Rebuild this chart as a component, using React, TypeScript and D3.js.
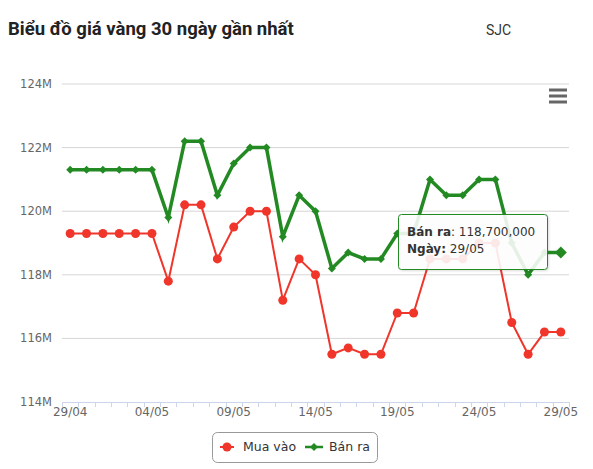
import * as React from "react";
import * as d3 from "d3";

const dates = [
  "29/04", "30/04", "01/05", "02/05", "03/05", "04/05", "05/05", "06/05",
  "07/05", "08/05", "09/05", "10/05", "11/05", "12/05", "13/05", "14/05",
  "15/05", "16/05", "17/05", "18/05", "19/05", "20/05", "21/05", "22/05",
  "23/05", "24/05", "25/05", "26/05", "27/05", "28/05", "29/05",
];

// giá mua vào (triệu đồng)
const buyPrices = [
  119.3, 119.3, 119.3, 119.3, 119.3, 119.3, 117.8, 120.2, 120.2, 118.5,
  119.5, 120.0, 120.0, 117.2, 118.5, 118.0, 115.5, 115.7, 115.5, 115.5,
  116.8, 116.8, 118.5, 118.5, 118.5, 119.0, 119.0, 116.5, 115.5, 116.2,
  116.2,
];

// giá bán ra (triệu đồng)
const sellPrices = [
  121.3, 121.3, 121.3, 121.3, 121.3, 121.3, 119.8, 122.2, 122.2, 120.5,
  121.5, 122.0, 122.0, 119.2, 120.5, 120.0, 118.2, 118.7, 118.5, 118.5,
  119.3, 119.3, 121.0, 120.5, 120.5, 121.0, 121.0, 119.0, 118.0, 118.7,
  118.7,
];

const yTicks = [114, 116, 118, 120, 122, 124];
const xLabelEvery = 5;

const W = 593;
const H = 469;
const left = 62;
const right = 569;
const top = 84;
const bottom = 402;

const RED = "#f0352a";
const GREEN = "#238a23";
const axisFont = '"DejaVu Sans", Verdana, sans-serif';

export default function App() {
  const x = d3.scaleBand<string>().domain(dates).range([left, right]);
  const cx = (i: number) => x(dates[i])! + x.bandwidth() / 2;
  const y = d3.scaleLinear().domain([114, 124]).range([bottom, top]);

  const line = d3
    .line<number>()
    .x((_, i) => cx(i))
    .y((d) => y(d));

  const diamond = (px: number, py: number, r: number) =>
    `M${px},${py - r}L${px + r},${py}L${px},${py + r}L${px - r},${py}Z`;

  const hoverIdx = dates.length - 1;

  return (
    <svg
      width={W}
      height={H}
      style={{ position: "absolute", left: 0, top: 0, background: "#fff" }}
    >
      <defs>
        <filter id="tipShadow" x="-10%" y="-10%" width="130%" height="140%">
          <feDropShadow dx="1" dy="1" stdDeviation="1.2" floodColor="#000" floodOpacity="0.15" />
        </filter>
      </defs>

      {/* title */}
      <text x={8} y={35} fontFamily="Roboto" fontWeight={700} fontSize={18.5} fill="#222">
        Biểu đồ giá vàng 30 ngày gần nhất
      </text>
      <text x={486} y={35} fontFamily="Roboto" fontSize={14} fill="#333">
        SJC
      </text>

      {/* grid */}
      {yTicks.map((t) => (
        <g key={t}>
          {t !== 114 && (
            <line x1={left} x2={right} y1={y(t)} y2={y(t)} stroke="#d6d6d6" strokeWidth={1} />
          )}
          <text
            x={52}
            y={y(t) + 4}
            textAnchor="end"
            fontFamily={axisFont}
            fontSize={11.5}
            fill="#666"
          >
            {t}M
          </text>
        </g>
      ))}

      {/* x axis */}
      <line x1={left} x2={right} y1={bottom + 0.5} y2={bottom + 0.5} stroke="#ccd6eb" />
      {d3.range(dates.length + 1).map((i) => {
        const tx = Math.round(left + i * x.bandwidth()) + 0.5;
        return <line key={i} x1={tx} x2={tx} y1={bottom} y2={bottom + 5} stroke="#ccd6eb" />;
      })}
      {dates.map((d, i) =>
        i % xLabelEvery === 0 ? (
          <text
            key={d}
            x={cx(i)}
            y={416}
            textAnchor="middle"
            fontFamily={axisFont}
            fontSize={12}
            fill="#666"
          >
            {d}
          </text>
        ) : null
      )}

      {/* menu icon */}
      {[90, 96, 102].map((ly) => (
        <line key={ly} x1={549} x2={567} y1={ly} y2={ly} stroke="#666" strokeWidth={3} />
      ))}

      {/* series: mua vào */}
      <path d={line(buyPrices)!} fill="none" stroke={RED} strokeWidth={2} />
      {buyPrices.map((v, i) => (
        <circle key={i} cx={cx(i)} cy={y(v)} r={4.5} fill={RED} />
      ))}

      {/* series: bán ra */}
      <path d={line(sellPrices)!} fill="none" stroke={GREEN} strokeWidth={3.5} />
      {sellPrices.map((v, i) => (
        <path key={i} d={diamond(cx(i), y(v), i === hoverIdx ? 6 : 4)} fill={GREEN} />
      ))}

      {/* tooltip */}
      <g filter="url(#tipShadow)">
        <rect
          x={398.5}
          y={214.5}
          width={149}
          height={55}
          rx={3}
          fill="rgba(255,255,255,0.88)"
          stroke={GREEN}
          strokeWidth={1}
        />
      </g>
      <text x={407} y={236} fontFamily={axisFont} fontSize={12} fill="#333">
        <tspan fontWeight={700}>Bán ra</tspan>: {d3.format(",")(Math.round(sellPrices[hoverIdx] * 1e6))}
      </text>
      <text x={407} y={253} fontFamily={axisFont} fontSize={12} fill="#333">
        <tspan fontWeight={700}>Ngày:</tspan> {dates[hoverIdx]}
      </text>

      {/* legend */}
      <rect x={212.5} y={432.5} width={165} height={30} rx={5} fill="#fff" stroke="#999" />
      <line x1={220} x2={234} y1={447} y2={447} stroke={RED} strokeWidth={2} />
      <circle cx={227} cy={447} r={4.5} fill={RED} />
      <text x={243} y={451} fontFamily={axisFont} fontSize={12.5} fill="#333">
        Mua vào
      </text>
      <line x1={305} x2={323} y1={447} y2={447} stroke={GREEN} strokeWidth={2.5} />
      <path d={diamond(314, 447, 4)} fill={GREEN} />
      <text x={329} y={451} fontFamily={axisFont} fontSize={12.5} fill="#333">
        Bán ra
      </text>
    </svg>
  );
}
